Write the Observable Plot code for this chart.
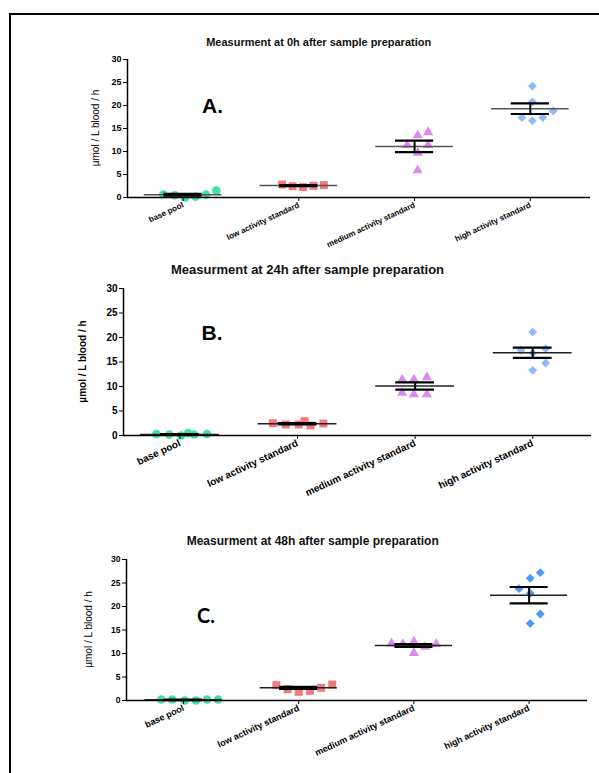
<!DOCTYPE html>
<html><head><meta charset="utf-8">
<script src="https://cdn.jsdelivr.net/npm/d3@7"></script>
<script src="https://cdn.jsdelivr.net/npm/@observablehq/plot@0.6"></script>
<style>
html,body{margin:0;padding:0;background:#fff;width:599px;height:773px;overflow:hidden;}
#root{position:relative;width:599px;height:773px;}
.frame{position:absolute;left:9px;top:13px;width:700px;height:900px;border:2px solid #000;box-sizing:border-box;}
.panel{position:absolute;left:0;}
#overlay{position:absolute;left:0;top:0;}
</style></head><body><div id="root"><div class="frame"></div></div>
<script>
// ---------- data ----------
const categories = ["base pool", "low activity standard", "medium activity standard", "high activity standard"];
const yTicks = [0, 5, 10, 15, 20, 25, 30];
const titles = ["Measurment at 0h after sample preparation", "Measurment at 24h after sample preparation", "Measurment at 48h after sample preparation"];
const panelLetters = ["A.", "B.", "C."];
const yLabel = "µmol / L blood / h";

// Panel A (0h)
const valuesA = [
  [0.65, 0.5, 0.0, 0.15, 0.65, 1.5],
  [2.83, 2.46, 2.25, 2.54, 2.68],
  [11.4, 13.5, 14.2, 9.7, 11.4, 5.9],
  [24.2, 20.8, 18.8, 17.4, 17.4, 16.7]
];
const slotsA = [
  [-1.9, -0.8, 0.2, 1.2, 2.2, 3.2],
  [-1.6, -0.6, 0.4, 1.4, 2.4],
  [-0.7, 0.3, 1.3, 0.3, 1.3, 0.3],
  [0.2, 0.2, 2.2, -0.8, 1.2, 0.2]
];
const meansA = [0.6, 2.6, 11.1, 19.3];
const semsA = [0.22, 0.12, 1.25, 1.15];

// Panel B (24h)
const valuesB = [
  [0.3, 0.2, 0.0, 0.5, 0.2, 0.3],
  [2.52, 2.25, 2.25, 2.93, 2.05, 2.45],
  [11.4, 11.4, 11.9, 8.7, 8.4, 8.4],
  [21.1, 17.4, 17.7, 16.8, 14.8, 13.3]
];
const slotsB = [
  [-2.0, -0.9, 0.1, 0.7, 1.2, 2.3],
  [-2.1, -1.0, 0.1, 0.6, 1.1, 2.2],
  [-1.1, -0.1, 1.0, -1.1, -0.1, 1.0],
  [0, -1.0, 1.1, 0, 1.1, 0]
];
const meansB = [0.2, 2.4, 10.1, 16.9];
const semsB = [0.08, 0.12, 0.75, 1.05];

// Panel C (48h)
const valuesC = [
  [0.2, 0.2, 0.0, 0.0, 0.2, 0.2],
  [3.26, 2.41, 1.84, 2.06, 2.70, 3.40],
  [12.1, 12.0, 12.5, 11.4, 12.0, 10.1],
  [23.8, 26.0, 27.2, 22.8, 18.4, 16.4]
];
const slotsC = [
  [-2.0, -1.0, 0.1, 1.1, 2.1, 3.1],
  [-2.0, -1.0, 0.0, 1.0, 2.0, 3.0],
  [-2.0, -1.0, 0.0, 1.0, 2.0, 0.0],
  [-0.9, 0.1, 1.0, 0.1, 1.0, 0.1]
];
const meansC = [0.15, 2.7, 11.7, 22.4];
const semsC = [0.05, 0.22, 0.32, 1.75];

// ---------- styles / layout ----------
const symbolNames = ["circle", "square", "triangle", "diamond2"];
const symbolR = [4.3, 4.5, 3.8, 4.0];
const colorsAB = ["#40e2a4", "#f27a7a", "#dc8af0", "#8cbcf8"];
const colorsC = ["#40e2a4", "#f27a7a", "#dc8af0", "#4a9cf0"];
const FONT = "'Liberation Sans', Arial, Helvetica, sans-serif";

const panels = [
  {values: valuesA, slots: slotsA, means: meansA, sems: semsA, colors: colorsAB,
   top: 50, yTop: 59, yBottom: 197, left: 127, right: 590, xDomain: [-0.48, 3.52], slotW: 0.09,
   marginBottom: 62, tickFont: 8, yTickFont: 9, meanColor: "#555",
   title: {x: 318.7, y: 46, size: 11}, letter: {x: 202, y: 113, size: 21, family: FONT},
   ylab: {x: 95, weight: "normal"}},
  {values: valuesB, slots: slotsB, means: meansB, sems: semsB, colors: colorsAB,
   top: 280, yTop: 288, yBottom: 435, left: 123, right: 591, xDomain: [-0.48, 3.5], slotW: 0.1,
   marginBottom: 80, tickFont: 10, yTickFont: 10, meanColor: "#222",
   title: {x: 307.5, y: 273.5, size: 13}, letter: {x: 201.5, y: 340, size: 21, family: FONT},
   ylab: {x: 82, weight: "bold"}},
  {values: valuesC, slots: slotsC, means: meansC, sems: semsC, colors: colorsC,
   top: 550, yTop: 559, yBottom: 700, left: 126, right: 587, xDomain: [-0.495, 3.507], slotW: 0.097,
   marginBottom: 70, tickFont: 9, yTickFont: 8.5, meanColor: "#222",
   title: {x: 312.7, y: 545, size: 12}, letter: {x: 197, y: 623, size: 20, family: "Lato, 'Open Sans', sans-serif"},
   ylab: {x: 88, weight: "normal"}}
];

const root = document.getElementById("root");

panels.forEach((p, pi) => {
  const marks = [];
  p.values.forEach((vals, ci) => {
    const pts = vals.map((v, j) => ({x: ci + p.slots[ci][j] * p.slotW, y: v}));
    marks.push(Plot.dot(pts, {x: "x", y: "y", symbol: symbolNames[ci], r: symbolR[ci], fill: p.colors[ci], stroke: "none"}));
  });
  const stats = categories.map((c, i) => ({i, mean: p.means[i], lo: p.means[i] - p.sems[i], hi: p.means[i] + p.sems[i]}));
  marks.push(Plot.ruleY(stats, {y: "mean", x1: d => d.i - 0.335, x2: d => d.i + 0.335, stroke: p.meanColor, strokeWidth: 1.6}));
  marks.push(Plot.ruleX(stats, {x: "i", y1: "lo", y2: "hi", stroke: "#000", strokeWidth: 2}));
  marks.push(Plot.ruleY(stats, {y: "lo", x1: d => d.i - 0.165, x2: d => d.i + 0.165, stroke: "#000", strokeWidth: 2.2}));
  marks.push(Plot.ruleY(stats, {y: "hi", x1: d => d.i - 0.165, x2: d => d.i + 0.165, stroke: "#000", strokeWidth: 2.2}));
  marks.push(Plot.axisX({ticks: [0, 1, 2, 3], tickFormat: i => categories[i], tickRotate: -25, tickSize: 4, tickPadding: 3, fontSize: p.tickFont, label: null}));
  marks.push(Plot.axisY({ticks: yTicks, tickSize: 4, tickPadding: 2, fontSize: p.yTickFont, label: null}));
  marks.push(Plot.ruleX([p.xDomain[0]], {stroke: "#000", strokeWidth: 1.5}));
  marks.push(Plot.ruleY([0], {stroke: "#000", strokeWidth: 1.5}));

  const marginTop = p.yTop - p.top;
  const chart = Plot.plot({
    width: 599,
    height: marginTop + (p.yBottom - p.yTop) + p.marginBottom,
    marginLeft: p.left, marginRight: 599 - p.right, marginTop, marginBottom: p.marginBottom,
    style: {fontFamily: FONT, fontWeight: "bold", color: "#000", background: "transparent", overflow: "visible"},
    x: {domain: p.xDomain},
    y: {domain: [0, 30]},
    marks
  });
  chart.classList.add("panel");
  chart.style.top = p.top + "px";
  chart.style.position = "absolute";
  chart.style.left = "0px";
  root.appendChild(chart);
});

// overlay for titles, letters, y labels
const ns = "http://www.w3.org/2000/svg";
const ov = document.createElementNS(ns, "svg");
ov.setAttribute("id", "overlay");
ov.setAttribute("width", 599); ov.setAttribute("height", 773);
ov.style.position = "absolute"; ov.style.left = "0"; ov.style.top = "0";
function txt(str, attrs) {
  const t = document.createElementNS(ns, "text");
  for (const k in attrs) t.setAttribute(k, attrs[k]);
  t.textContent = str;
  ov.appendChild(t);
}
panels.forEach((p, i) => {
  txt(titles[i], {x: p.title.x, y: p.title.y, "text-anchor": "middle", "font-family": FONT, "font-weight": "bold", "font-size": p.title.size, fill: "#111"});
  txt(panelLetters[i], {x: p.letter.x, y: p.letter.y, "font-family": p.letter.family, "font-weight": "bold", "font-size": p.letter.size, fill: "#000"});
  const cy = (p.yTop + p.yBottom) / 2;
  txt(yLabel, {transform: `translate(${p.ylab.x},${cy}) rotate(-90)`, "text-anchor": "middle", dy: "0.35em", "font-family": FONT, "font-weight": p.ylab.weight, "font-size": 10, fill: "#000"});
});
root.appendChild(ov);
</script>
</body></html>
